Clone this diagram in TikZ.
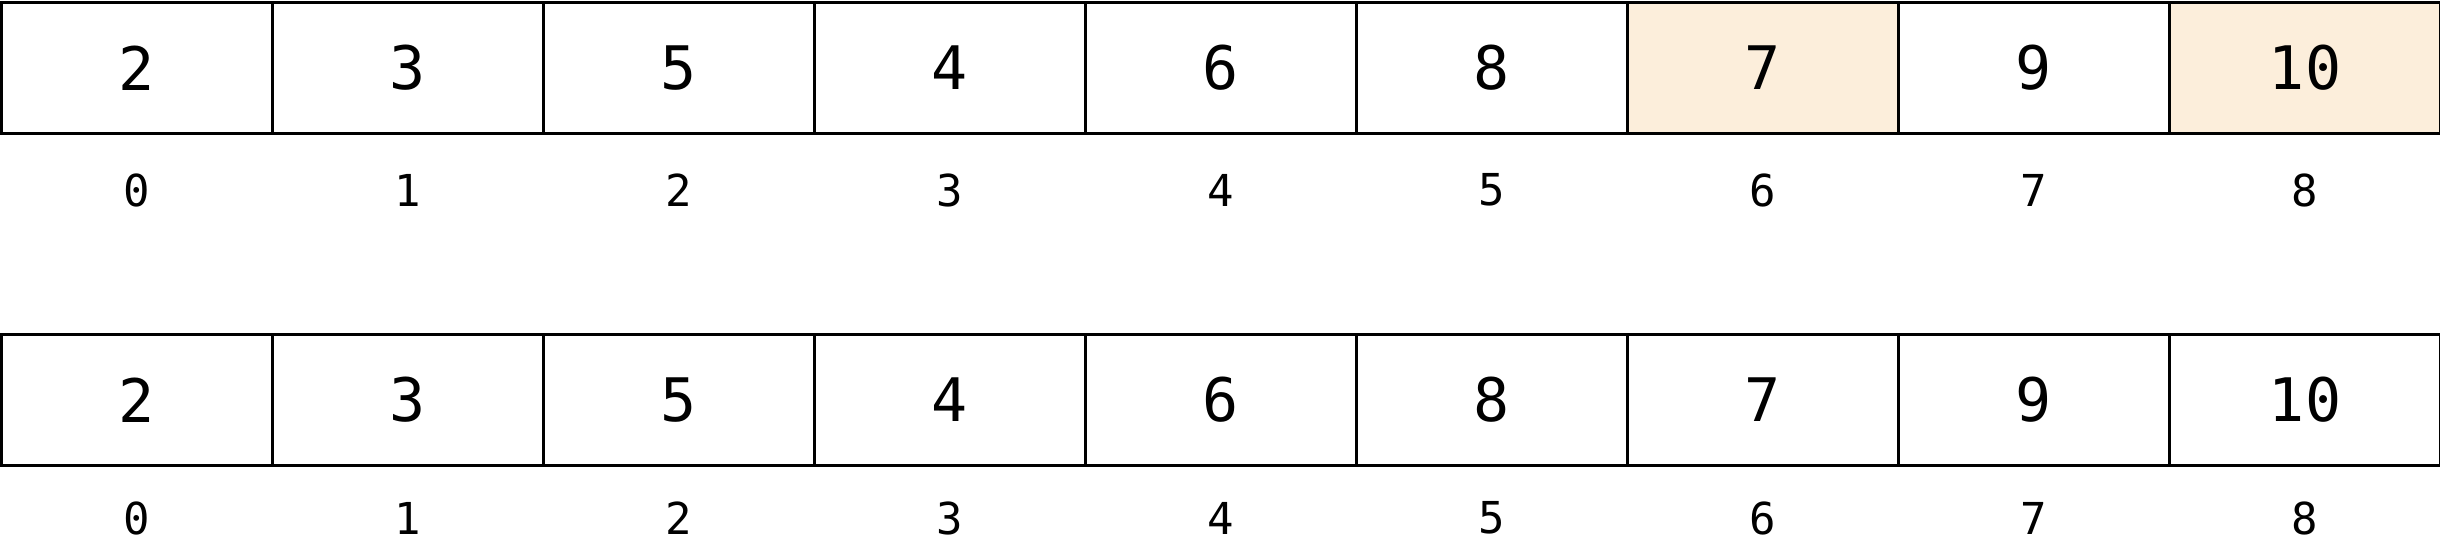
\documentclass[tikz,border=0pt]{standalone}
\usepackage{fontspec}
\setmainfont{DejaVu Sans Mono}
\definecolor{hl}{HTML}{FCEEDB}
\begin{document}
\begin{tikzpicture}[x=1pt,y=-1pt,
  cell/.style={draw=black,line width=2.5pt,minimum width=271pt,minimum height=131pt,inner sep=0pt,outer sep=0pt,font=\fontsize{60}{62}\selectfont},
  hcell/.style={cell,fill=hl},
  idx/.style={inner sep=0pt,font=\fontsize{44}{46}\selectfont}]
\useasboundingbox (0,0) rectangle (2440,542);
\foreach \v [count=\i from 0] in {2,3,5,4,6,8,7,9,10}{
  \pgfmathsetmacro{\cx}{1.5+271*\i+135.5}
  \ifnum\i=6 \def\st{hcell}\else\ifnum\i=8 \def\st{hcell}\else\def\st{cell}\fi\fi
  \node[\st] (a\i) at (\cx,68) {\v};
  \node[idx] (ai\i) at (\cx,190) {\i};
  \node[cell] (b\i) at (\cx,400) {\v};
  \node[idx] (bi\i) at (\cx,518) {\i};
}
\end{tikzpicture}
\end{document}
